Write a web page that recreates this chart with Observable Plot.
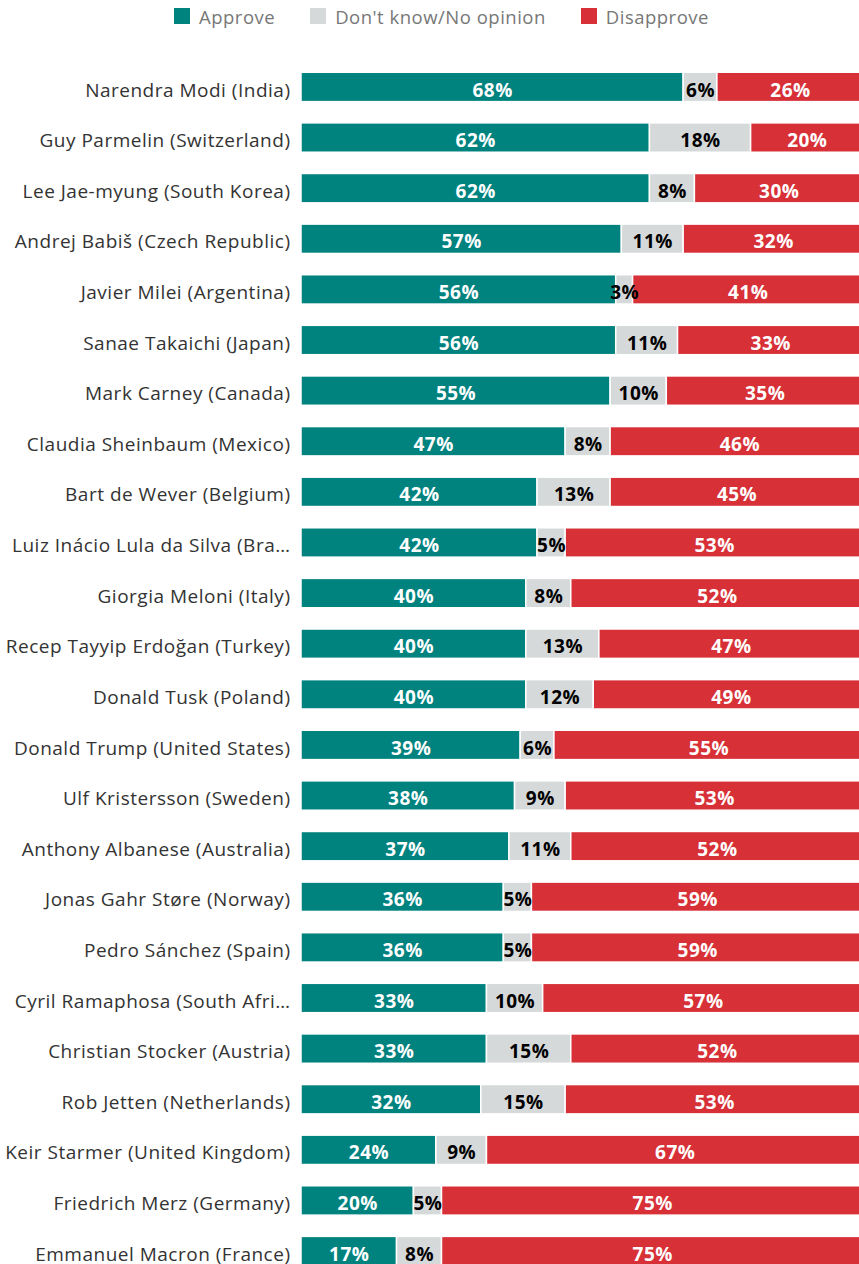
<!DOCTYPE html>
<html>
<head>
<meta charset="utf-8">
<script src="https://cdn.jsdelivr.net/npm/d3@7"></script>
<script src="https://cdn.jsdelivr.net/npm/@observablehq/plot@0.6"></script>
<style>
  html, body { margin: 0; padding: 0; background: #fff; overflow: hidden; width: 859px; height: 1264px; }
  #legend { height: 32px; display: flex; align-items: center; padding-left: 174px; box-sizing: border-box; font-family: "Open Sans", sans-serif; font-size: 18.5px; letter-spacing: 0.5px; color: #777; white-space: nowrap; }
  .item { display: flex; align-items: center; margin-right: 35px; }
  .sw { width: 16px; height: 16px; margin-right: 9px; }
  #chart { width: 859px; overflow: hidden; }
  #chart svg { display: block; max-width: none !important; }
  #chart svg text { letter-spacing: 0.5px; }
</style>
</head>
<body>
<div id="legend"></div>
<div id="chart"></div>
<script>
const names = [
  "Narendra Modi (India)",
  "Guy Parmelin (Switzerland)",
  "Lee Jae-myung (South Korea)",
  "Andrej Babiš (Czech Republic)",
  "Javier Milei (Argentina)",
  "Sanae Takaichi (Japan)",
  "Mark Carney (Canada)",
  "Claudia Sheinbaum (Mexico)",
  "Bart de Wever (Belgium)",
  "Luiz Inácio Lula da Silva (Bra…",
  "Giorgia Meloni (Italy)",
  "Recep Tayyip Erdoğan (Turkey)",
  "Donald Tusk (Poland)",
  "Donald Trump (United States)",
  "Ulf Kristersson (Sweden)",
  "Anthony Albanese (Australia)",
  "Jonas Gahr Støre (Norway)",
  "Pedro Sánchez (Spain)",
  "Cyril Ramaphosa (South Afri…",
  "Christian Stocker (Austria)",
  "Rob Jetten (Netherlands)",
  "Keir Starmer (United Kingdom)",
  "Friedrich Merz (Germany)",
  "Emmanuel Macron (France)"
];
const approve    = [68, 62, 62, 57, 56, 56, 55, 47, 42, 42, 40, 40, 40, 39, 38, 37, 36, 36, 33, 33, 32, 24, 20, 17];
const dontKnow   = [ 6, 18,  8, 11,  3, 11, 10,  8, 13,  5,  8, 13, 12,  6,  9, 11,  5,  5, 10, 15, 15,  9,  5,  8];
const disapprove = [26, 20, 30, 32, 41, 33, 35, 46, 45, 53, 52, 47, 49, 55, 53, 52, 59, 59, 57, 52, 53, 67, 75, 75];
const categories = ["Approve", "Don't know/No opinion", "Disapprove"];
const colors = ["#00827F", "#D6D9D9", "#D73037"];

const series = [approve, dontKnow, disapprove];
const data = names.flatMap((name, i) =>
  categories.map((cat, k) => ({name, cat, value: series[k][i]}))
);

// Legend
const legend = document.getElementById("legend");
categories.forEach((c, k) => {
  const it = document.createElement("div");
  it.className = "item";
  const sw = document.createElement("div");
  sw.className = "sw";
  sw.style.background = colors[k];
  const tx = document.createElement("span");
  tx.textContent = c;
  it.appendChild(sw); it.appendChild(tx);
  legend.appendChild(it);
});

const chart = Plot.plot({
  width: 863,
  height: 1255,
  marginLeft: 301,
  marginRight: 0,
  marginTop: 19,
  marginBottom: 0,
  style: {fontFamily: "'Open Sans', sans-serif", color: "#333", background: "#fff", maxWidth: "none"},
  x: {domain: [0, 100], axis: null},
  y: {domain: names, padding: 0.42, round: false, label: null},
  color: {domain: categories, range: colors},
  marks: [
    Plot.barX(data, Plot.stackX({x: "value", y: "name", fill: "cat", stroke: "white", strokeWidth: 1.5})),
    Plot.text(data, Plot.stackX({
      x: "value", y: "name", z: "cat", dy: 3,
      text: d => d.cat === categories[1] ? null : d.value + "%",
      fill: "white", fontWeight: "bold", fontSize: 19
    })),
    Plot.text(data, Plot.stackX({
      x: "value", y: "name", z: "cat", dy: 3,
      text: d => d.cat === categories[1] ? d.value + "%" : null,
      fill: "black", fontWeight: "bold", fontSize: 19
    })),
    Plot.axisY({tickSize: 0, tickPadding: 11, dy: 3, fontSize: 19, label: null, fill: "#333"})
  ]
});
document.getElementById("chart").appendChild(chart);
</script>
</body>
</html>
